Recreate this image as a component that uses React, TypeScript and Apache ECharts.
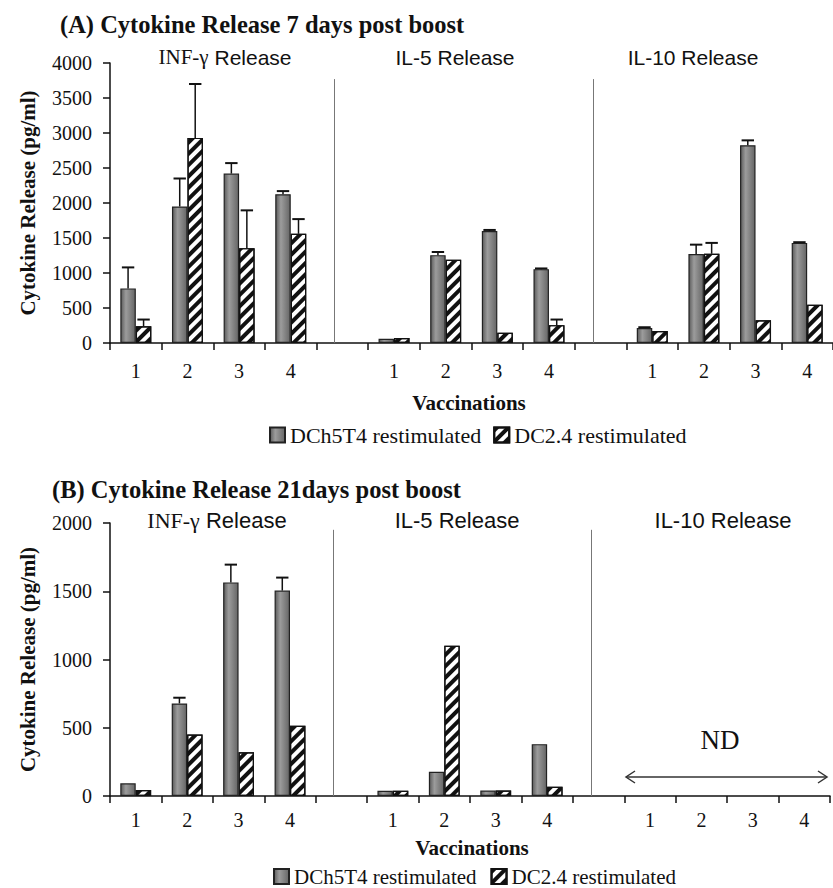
import React, { useEffect, useRef } from "react";
import * as echarts from "echarts";

const categories = ["1", "2", "3", "4", "", "1", "2", "3", "4", "", "1", "2", "3", "4"];
const yTicksA = [0, 500, 1000, 1500, 2000, 2500, 3000, 3500, 4000];
const yTicksB = [0, 500, 1000, 1500, 2000];

// (A) 7 days post boost
const aDCh5T4 = [780, 1950, 2420, 2125, null, 60, 1255, 1600, 1055, null, 215, 1270, 2825, 1430];
const aDCh5T4Err = [1080, 2350, 2570, 2170, null, null, 1300, 1615, 1065, null, 225, 1405, 2895, 1440];
const aDC24 = [240, 2930, 1355, 1560, null, 70, 1190, 145, 255, null, 170, 1275, 325, 545];
const aDC24Err = [335, 3700, 1895, 1770, null, null, null, null, 335, null, null, 1430, null, null];

// (B) 21 days post boost
const bDCh5T4 = [93, 678, 1565, 1505, null, 38, 178, 40, 380, null, null, null, null, null];
const bDCh5T4Err = [null, 720, 1695, 1600, null, null, null, null, null, null, null, null, null, null];
const bDC24 = [44, 451, 320, 514, null, 38, 1100, 40, 68, null, null, null, null, null];
const bDC24Err = [null, null, null, null, null, null, null, null, null, null, null, null, null, null];

const S1 = "DCh5T4 restimulated";
const S2 = "DC2.4 restimulated";
const SERIF = "Liberation Serif";
const SANS = "Liberation Sans";
const INK = "#111";

const grayFill = {
  type: "linear", x: 0, y: 0, x2: 1, y2: 0,
  colorStops: [
    { offset: 0, color: "#5c5c5c" },
    { offset: 0.35, color: "#9c9c9c" },
    { offset: 1, color: "#666666" },
  ],
};

const hatch = {
  symbol: "rect",
  symbolSize: 1,
  dashArrayX: [1, 0],
  dashArrayY: [3.5, 3.5],
  rotation: -Math.PI / 4,
  color: "#111",
};

function errData(vals: (number | null)[], errs: (number | null)[]) {
  const out: number[][] = [];
  vals.forEach((v, i) => {
    const e = errs[i];
    if (v != null && e != null) out.push([i, v, e]);
  });
  return out;
}

function errSeries(idx: number, vals: (number | null)[], errs: (number | null)[], off: number) {
  return {
    type: "custom",
    name: "err" + idx + off,
    xAxisIndex: idx,
    yAxisIndex: idx,
    z: 5,
    encode: { x: 0, y: [1, 2] },
    data: errData(vals, errs),
    renderItem: (_p: any, api: any) => {
      const x = api.value(0);
      const base = api.coord([x, api.value(1)]);
      const top = api.coord([x, api.value(2)]);
      const bw = api.size([1, 0])[0];
      const cx = base[0] + off * bw;
      const cap = bw * 0.12;
      return {
        type: "group",
        children: [
          { type: "line", shape: { x1: cx, y1: base[1], x2: cx, y2: top[1] }, style: { stroke: INK, lineWidth: 1.5 } },
          { type: "line", shape: { x1: cx - cap, y1: top[1], x2: cx + cap, y2: top[1] }, style: { stroke: INK, lineWidth: 2 } },
        ],
      };
    },
  };
}

function barSeries(idx: number, name: string, data: (number | null)[], gray: boolean, sepTop: number) {
  const s: any = {
    type: "bar",
    name,
    xAxisIndex: idx,
    yAxisIndex: idx,
    barWidth: "30%",
    barGap: "0%",
    data,
    itemStyle: gray
      ? { color: grayFill, borderColor: "#222", borderWidth: 1.2 }
      : { color: "#ffffff", borderColor: "#111", borderWidth: 1.2, decal: hatch },
  };
  if (gray) {
    s.markLine = {
      silent: true,
      symbol: "none",
      label: { show: false },
      lineStyle: { color: "#777", width: 1, type: "solid" },
      data: [
        [{ coord: [4, 0] }, { coord: [4, sepTop] }],
        [{ coord: [9, 0] }, { coord: [9, sepTop] }],
      ],
    };
  }
  return s;
}

function xAxis(idx: number, margin: number) {
  return {
    type: "category",
    gridIndex: idx,
    data: categories,
    boundaryGap: true,
    axisLine: { lineStyle: { color: INK, width: 1.5 } },
    axisTick: { show: true, interval: 0, length: 7, lineStyle: { color: INK, width: 1.5 } },
    axisLabel: { interval: 0, margin, fontFamily: SERIF, fontSize: 20, color: INK },
  };
}

function yAxis(idx: number, max: number, ticks: number[]) {
  return {
    type: "value",
    gridIndex: idx,
    min: ticks[0],
    max,
    interval: ticks[1] - ticks[0],
    name: "Cytokine Release (pg/ml)",
    nameLocation: "middle",
    nameGap: 72,
    nameTextStyle: { fontFamily: SERIF, fontSize: 21, fontWeight: "bold", color: INK },
    splitLine: { show: false },
    axisLine: { show: true, lineStyle: { color: INK, width: 1.5 } },
    axisTick: { show: true, length: 7, lineStyle: { color: INK, width: 1.5 } },
    axisLabel: { margin: 18, fontFamily: SERIF, fontSize: 20, color: INK, formatter: (v: number) => String(v) },
  };
}

function panelTitle(x: number, y: number, size: number, serifPart: string, sansPart: string) {
  return {
    type: "text",
    x,
    y,
    style: {
      text: (serifPart ? "{s|" + serifPart + "}" : "") + "{a|" + sansPart + "}",
      align: "center",
      verticalAlign: "middle",
      rich: {
        s: { fontFamily: SERIF, fontSize: size, fill: INK },
        a: { fontFamily: SANS, fontSize: size, fill: INK },
      },
    },
  };
}

function textG(x: number, y: number, text: string, size: number, bold: boolean, align = "center") {
  return {
    type: "text",
    x,
    y,
    style: {
      text,
      fontFamily: SERIF,
      fontSize: size,
      fontWeight: bold ? "bold" : "normal",
      fill: INK,
      align,
      verticalAlign: "middle",
    },
  };
}

export default function App() {
  const ref = useRef<HTMLDivElement>(null);
  useEffect(() => {
    if (!ref.current) return;
    const chart = echarts.init(ref.current, null, { renderer: "svg" });
    const option: any = {
      animation: false,
      backgroundColor: "#ffffff",
      grid: [
        { left: 110, top: 63, width: 735, height: 280 },
        { left: 110, top: 523, width: 720, height: 273 },
      ],
      xAxis: [xAxis(0, 18), xAxis(1, 14)],
      yAxis: [yAxis(0, 4000, yTicksA), yAxis(1, 2000, yTicksB)],
      legend: [
        {
          data: [S1, S2], left: 269, top: 424, padding: 0, icon: "rect", itemWidth: 15, itemHeight: 15, itemGap: 12,
          textStyle: { fontFamily: SERIF, fontSize: 22, color: INK }, selectedMode: false,
        },
        {
          data: [S1, S2], left: 273, top: 866, padding: 0, icon: "rect", itemWidth: 15, itemHeight: 15, itemGap: 14,
          textStyle: { fontFamily: SERIF, fontSize: 21, color: INK }, selectedMode: false,
        },
      ],
      series: [
        barSeries(0, S1, aDCh5T4, true, 3770),
        barSeries(0, S2, aDC24, false, 0),
        errSeries(0, aDCh5T4, aDCh5T4Err, -0.15),
        errSeries(0, aDC24, aDC24Err, 0.15),
        barSeries(1, S1, bDCh5T4, true, 1950),
        barSeries(1, S2, bDC24, false, 0),
        errSeries(1, bDCh5T4, bDCh5T4Err, -0.15),
        errSeries(1, bDC24, bDC24Err, 0.15),
      ],
      graphic: [
        textG(60, 24, "(A) Cytokine Release 7 days post boost", 24.5, true, "left"),
        textG(52, 489, "(B) Cytokine Release 21days post boost", 24.5, true, "left"),
        panelTitle(225, 57, 21, "INF-γ", " Release"),
        panelTitle(455, 57, 21, "", "IL-5 Release"),
        panelTitle(693, 57, 21, "", "IL-10 Release"),
        panelTitle(217, 520, 22, "INF-γ", " Release"),
        panelTitle(457, 520, 22, "", "IL-5 Release"),
        panelTitle(723, 520, 22, "", "IL-10 Release"),
        textG(469, 403, "Vaccinations", 21, true),
        textG(472, 848, "Vaccinations", 21, true),
        textG(720, 740, "ND", 27, false),
        { type: "line", shape: { x1: 626, y1: 777, x2: 827, y2: 777 }, style: { stroke: "#333", lineWidth: 1.5 } },
        { type: "polyline", shape: { points: [[635, 771], [626, 777], [635, 783]] }, style: { stroke: "#333", lineWidth: 1.5, fill: null } },
        { type: "polyline", shape: { points: [[818, 771], [827, 777], [818, 783]] }, style: { stroke: "#333", lineWidth: 1.5, fill: null } },
      ],
    };
    chart.setOption(option);
    return () => chart.dispose();
  }, []);
  return (
    <div
      ref={ref}
      style={{ position: "absolute", left: 0, top: 0, width: 833, height: 888, background: "#fff" }}
    />
  );
}
